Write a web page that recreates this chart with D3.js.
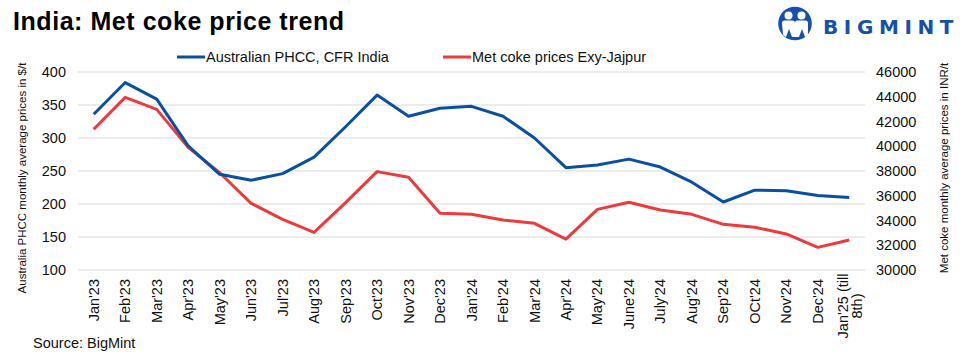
<!DOCTYPE html>
<html>
<head>
<meta charset="utf-8">
<script src="https://cdn.jsdelivr.net/npm/d3@7"></script>
<style>
  body { margin: 0; background: #fff; }
  svg { display: block; font-family: "Liberation Sans", Arial, sans-serif; }
</style>
</head>
<body>
<svg id="chart" width="970" height="357"></svg>
<script>
const categories = ["Jan'23","Feb'23","Mar'23","Apr'23","May'23","Jun'23","Jul'23","Aug'23","Sep'23","Oct'23","Nov'23","Dec'23","Jan'24","Feb'24","Mar'24","Apr'24","May'24","June'24","July'24","Aug'24","Sep'24","OCt'24","Nov'24","Dec'24","Jan'25 (till 8th)"];
const phcc = [336,384,359,288,245,236,246,271,317,365,333,345,348,333,300,255,259,268,256,233,203,221,220,213,210];
const metcoke = [41370,43950,42980,39910,37860,35390,34090,33040,35440,37950,37490,34580,34500,34040,33770,32500,34900,35470,34850,34500,33690,33450,32910,31830,32420];
const leftTicks = [100,150,200,250,300,350,400];
const rightTicks = [30000,32000,34000,36000,38000,40000,42000,44000,46000];

const svg = d3.select("#chart");
const blue = "#0a4fa3", red = "#ee3a3a";
const L = 78, R = 865, T = 72, B = 270;

const x = d3.scaleBand().domain(categories).range([L, R]);
const yL = d3.scaleLinear().domain([100, 400]).range([B, T]);
const yR = d3.scaleLinear().domain([30000, 46000]).range([B, T]);

// gridlines
svg.append("g").selectAll("line").data(leftTicks).join("line")
  .attr("x1", L).attr("x2", R)
  .attr("y1", d => yL(d)).attr("y2", d => yL(d))
  .attr("stroke", "#d9d9d9").attr("stroke-width", 1);

// left axis
const gL = svg.append("g").attr("transform", `translate(${L - 10},0)`)
  .call(d3.axisLeft(yL).tickValues(leftTicks).tickSize(0).tickPadding(2));
gL.select(".domain").remove();
gL.selectAll("text").attr("font-size", 14.5).attr("fill", "#111").attr("font-family", "Liberation Sans, Arial, sans-serif");

// right axis
const gR = svg.append("g").attr("transform", `translate(${R + 11},0)`)
  .call(d3.axisRight(yR).tickValues(rightTicks).tickSize(0).tickPadding(0).tickFormat(d3.format("d")));
gR.select(".domain").remove();
gR.selectAll("text").attr("font-size", 14.5).attr("fill", "#111").attr("font-family", "Liberation Sans, Arial, sans-serif");

// x labels
const xl = svg.append("g");
categories.forEach((c, i) => {
  const cx = x(c) + x.bandwidth() / 2;
  if (c === "Jan'25 (till 8th)") {
    const t = xl.append("text")
      .attr("transform", `translate(${cx},306) rotate(-90)`)
      .attr("text-anchor", "middle").attr("font-size", 14.5).attr("fill", "#111");
    t.append("tspan").attr("x", 0).attr("y", -1.5).text("Jan'25 (till");
    t.append("tspan").attr("x", 0).attr("y", 12.5).text("8th)");
  } else {
    xl.append("text")
      .attr("transform", `translate(${cx},279) rotate(-90)`)
      .attr("text-anchor", "end").attr("dy", "0.35em")
      .attr("font-size", 14.5).attr("fill", "#111").text(c);
  }
});

// lines
const lineL = d3.line().x((d, i) => x(categories[i]) + x.bandwidth() / 2).y(d => yL(d));
const lineR = d3.line().x((d, i) => x(categories[i]) + x.bandwidth() / 2).y(d => yR(d));
svg.append("path").datum(metcoke).attr("d", lineR).attr("fill", "none")
  .attr("stroke", red).attr("stroke-width", 3).attr("stroke-linejoin", "round");
svg.append("path").datum(phcc).attr("d", lineL).attr("fill", "none")
  .attr("stroke", blue).attr("stroke-width", 3).attr("stroke-linejoin", "round");

// axis titles
svg.append("text").attr("transform", `translate(26,178) rotate(-90)`)
  .attr("text-anchor", "middle").attr("font-size", 11.5).attr("fill", "#111")
  .text("Australia PHCC monthly average prices in $/t");
svg.append("text").attr("transform", `translate(948,168) rotate(-90)`)
  .attr("text-anchor", "middle").attr("font-size", 11.5).attr("fill", "#111")
  .text("Met coke monthly average prices in INR/t");

// title
svg.append("text").attr("x", 13).attr("y", 30).attr("font-size", 25).attr("font-weight", "bold")
  .attr("fill", "#000").attr("letter-spacing", 0.55).text("India: Met coke price trend");

// legend
const legend = [{label: "Australian PHCC, CFR India", color: blue, x: 177}, {label: "Met coke prices Exy-Jajpur", color: red, x: 443}];
legend.forEach(l => {
  svg.append("line").attr("x1", l.x).attr("x2", l.x + 28).attr("y1", 57).attr("y2", 57)
    .attr("stroke", l.color).attr("stroke-width", 3);
  svg.append("text").attr("x", l.x + 29).attr("y", 62).attr("font-size", 14.5).attr("fill", "#111")
    .text(l.label);
});

// source
svg.append("text").attr("x", 33).attr("y", 348).attr("font-size", 14.5).attr("fill", "#111").text("Source: BigMint");

// logo
const logo = svg.append("g").attr("fill", "#1550b0");
logo.append("circle").attr("cx", 795).attr("cy", 23.5).attr("r", 16.8);
logo.append("circle").attr("cx", 788.5).attr("cy", 15.5).attr("r", 4).attr("fill", "#fff");
logo.append("circle").attr("cx", 801.5).attr("cy", 15.5).attr("r", 4).attr("fill", "#fff");
logo.append("path").attr("d", "M782,23 Q782,20.5 784.5,20.5 L792.5,20.5 Q795,20.5 795,23 L795,37 L792,37 L789,29 L786,37 L783,35 Z").attr("fill", "#fff");
logo.append("path").attr("d", "M795,23 Q795,20.5 797.5,20.5 L805.5,20.5 Q808,20.5 808,23 L808,35 L805,37 L802,29 L799,37 L795,37 Z").attr("fill", "#fff");
logo.append("text").attr("x", 823).attr("y", 34).attr("font-size", 20).attr("font-weight", "bold")
  .attr("font-family", "'DejaVu Sans', sans-serif").attr("letter-spacing", 5.6).text("BIGMINT");
</script>
</body>
</html>
